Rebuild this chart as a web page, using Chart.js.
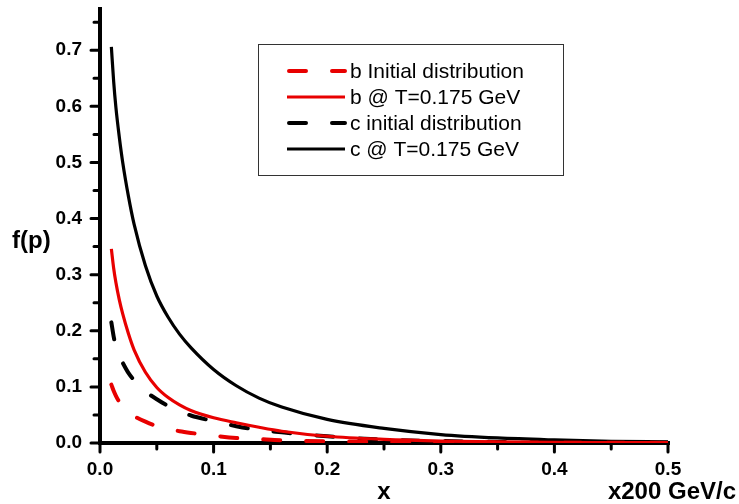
<!DOCTYPE html>
<html>
<head>
<meta charset="utf-8">
<script src="https://cdn.jsdelivr.net/npm/chart.js@4/dist/chart.umd.min.js"></script>
<style>
  html, body { margin: 0; padding: 0; background: #fff; }
</style>
</head>
<body>
<canvas id="line-chart" width="739" height="504"></canvas>
<script>
// momentum fraction (x200 GeV/c)
const xValues = [0.01, 0.012, 0.014, 0.017, 0.02, 0.025, 0.03, 0.04, 0.05, 0.06, 0.07, 0.08,
                 0.1, 0.12, 0.14, 0.16, 0.2, 0.25, 0.3, 0.35, 0.4, 0.45, 0.5];

const bInitial = [0.104, 0.093, 0.084, 0.073, 0.065, 0.055, 0.048, 0.038, 0.030, 0.025, 0.021, 0.018,
                  0.013, 0.009, 0.007, 0.005, 0.003, 0.002, 0.001, 0.0007, 0.0005, 0.0003, 0.0002];
const bFinal = [0.346, 0.312, 0.286, 0.255, 0.230, 0.195, 0.166, 0.126, 0.099, 0.081, 0.068, 0.058,
                0.045, 0.036, 0.028, 0.021, 0.012, 0.0065, 0.0035, 0.002, 0.0012, 0.0008, 0.0005];
const cInitial = [0.215, 0.190, 0.172, 0.155, 0.143, 0.125, 0.112, 0.092, 0.078, 0.066, 0.057, 0.049,
                  0.039, 0.030, 0.023, 0.019, 0.012, 0.006, 0.0035, 0.002, 0.0015, 0.001, 0.0005];
const cFinal = [0.706, 0.645, 0.598, 0.545, 0.500, 0.440, 0.390, 0.316, 0.262, 0.224, 0.194, 0.170,
                0.131, 0.102, 0.080, 0.064, 0.042, 0.026, 0.015, 0.009, 0.0055, 0.003, 0.002];

const seriesLabels = ["b Initial distribution", "b @ T=0.175 GeV", "c initial distribution", "c @ T=0.175 GeV"];

const xTicks = [0, 0.1, 0.2, 0.3, 0.4, 0.5];
const yTicks = [0, 0.1, 0.2, 0.3, 0.4, 0.5, 0.6, 0.7];
const xMinorTicks = [0.05, 0.15, 0.25, 0.35, 0.45];
const yMinorTicks = [0.05, 0.15, 0.25, 0.35, 0.45, 0.55, 0.65, 0.75];

const RED = "rgb(232,0,0)";
const FONT = "'Liberation Sans', Arial, sans-serif";

function toPoints(ys) {
  return xValues.map((x, i) => ({ x: x, y: ys[i] }));
}

function series(label, ys, color, dashed) {
  return {
    label: label,
    data: toPoints(ys),
    borderColor: color,
    borderWidth: dashed ? 4 : 3.2,
    borderDash: dashed ? [17, 26] : [],
    borderCapStyle: dashed ? "round" : "butt",
    pointRadius: 0,
    fill: false,
    cubicInterpolationMode: "monotone",
  };
}

// axis lines and tick marks, drawn under the curves
const axesPlugin = {
  id: "axes",
  beforeDatasetsDraw(chart) {
    const { ctx, chartArea, scales } = chart;
    const x = scales.x, y = scales.y;
    const x0 = x.getPixelForValue(0);
    const y0 = y.getPixelForValue(0);
    ctx.save();
    ctx.strokeStyle = "#000";
    ctx.lineWidth = 4;
    ctx.lineCap = "butt";
    ctx.beginPath();
    ctx.moveTo(x0, chartArea.top);
    ctx.lineTo(x0, y0 + 2);
    ctx.moveTo(x0 - 2, y0);
    ctx.lineTo(x.getPixelForValue(0.5) + 2, y0);
    ctx.stroke();

    ctx.lineWidth = 3;
    ctx.lineCap = "round";
    ctx.beginPath();
    xTicks.forEach(v => { const p = x.getPixelForValue(v); ctx.moveTo(p, y0); ctx.lineTo(p, y0 + 9); });
    xMinorTicks.forEach(v => { const p = x.getPixelForValue(v); ctx.moveTo(p, y0); ctx.lineTo(p, y0 + 6); });
    yTicks.forEach(v => { const p = y.getPixelForValue(v); ctx.moveTo(x0, p); ctx.lineTo(x0 - 9, p); });
    yMinorTicks.forEach(v => { const p = y.getPixelForValue(v); ctx.moveTo(x0, p); ctx.lineTo(x0 - 6, p); });
    ctx.stroke();
    ctx.restore();
  },
};

// boxed legend and axis titles
const textPlugin = {
  id: "texts",
  afterDraw(chart) {
    const ctx = chart.ctx;
    ctx.save();
    ctx.fillStyle = "#000";
    ctx.font = "bold 24px " + FONT;
    ctx.textBaseline = "alphabetic";
    ctx.textAlign = "left";
    ctx.fillText("f(p)", 12, 248);
    ctx.textAlign = "center";
    ctx.fillText("x", 384, 499);
    ctx.textAlign = "right";
    ctx.fillText("x200 GeV/c", 736, 499);

    ctx.strokeStyle = "#333";
    ctx.lineWidth = 1;
    ctx.strokeRect(258.5, 44.5, 305, 131);

    ctx.font = "21px " + FONT;
    ctx.textAlign = "left";
    ctx.textBaseline = "middle";
    chart.data.datasets.forEach((ds, i) => {
      const ry = 71 + i * 26;
      ctx.save();
      ctx.strokeStyle = ds.borderColor;
      ctx.lineWidth = ds.borderWidth;
      ctx.lineCap = ds.borderCapStyle;
      ctx.setLineDash(ds.borderDash);
      ctx.beginPath();
      const startX = ds.borderDash.length ? 289 : 287;
      ctx.moveTo(startX, ry);
      ctx.lineTo(345, ry);
      ctx.stroke();
      ctx.restore();
      ctx.fillText(ds.label, 350, ry + 1);
    });
    ctx.restore();
  },
};

const tickFont = { family: FONT, size: 19, weight: "bold" };

new Chart(document.getElementById("line-chart").getContext("2d"), {
  type: "line",
  data: {
    datasets: [
      series(seriesLabels[0], bInitial, RED, true),
      series(seriesLabels[1], bFinal, RED, false),
      series(seriesLabels[2], cInitial, "#000", true),
      series(seriesLabels[3], cFinal, "#000", false),
    ],
  },
  options: {
    responsive: false,
    animation: false,
    devicePixelRatio: 1,
    layout: { padding: { top: 7, right: 71, left: 0, bottom: 0 } },
    plugins: { legend: { display: false }, tooltip: { enabled: false } },
    scales: {
      x: {
        type: "linear",
        min: 0,
        max: 0.5,
        grid: { display: false, drawTicks: false },
        border: { display: false },
        afterBuildTicks: s => { s.ticks = xTicks.map(v => ({ value: v })); },
        afterFit: s => { s.height = 61; s.paddingLeft = 0; s.paddingRight = 0; },
        ticks: { font: tickFont, color: "#000", padding: 15, maxRotation: 0,
                 callback: v => Number(v).toFixed(1) },
      },
      y: {
        type: "linear",
        min: 0,
        max: 0.777,
        grid: { display: false, drawTicks: false },
        border: { display: false },
        afterBuildTicks: s => { s.ticks = yTicks.map(v => ({ value: v })); },
        afterFit: s => { s.width = 100; s.paddingTop = 0; s.paddingBottom = 0; },
        ticks: { font: tickFont, color: "#000", padding: 18,
                 callback: v => Number(v).toFixed(1) },
      },
    },
  },
  plugins: [axesPlugin, textPlugin],
});
</script>
</body>
</html>
